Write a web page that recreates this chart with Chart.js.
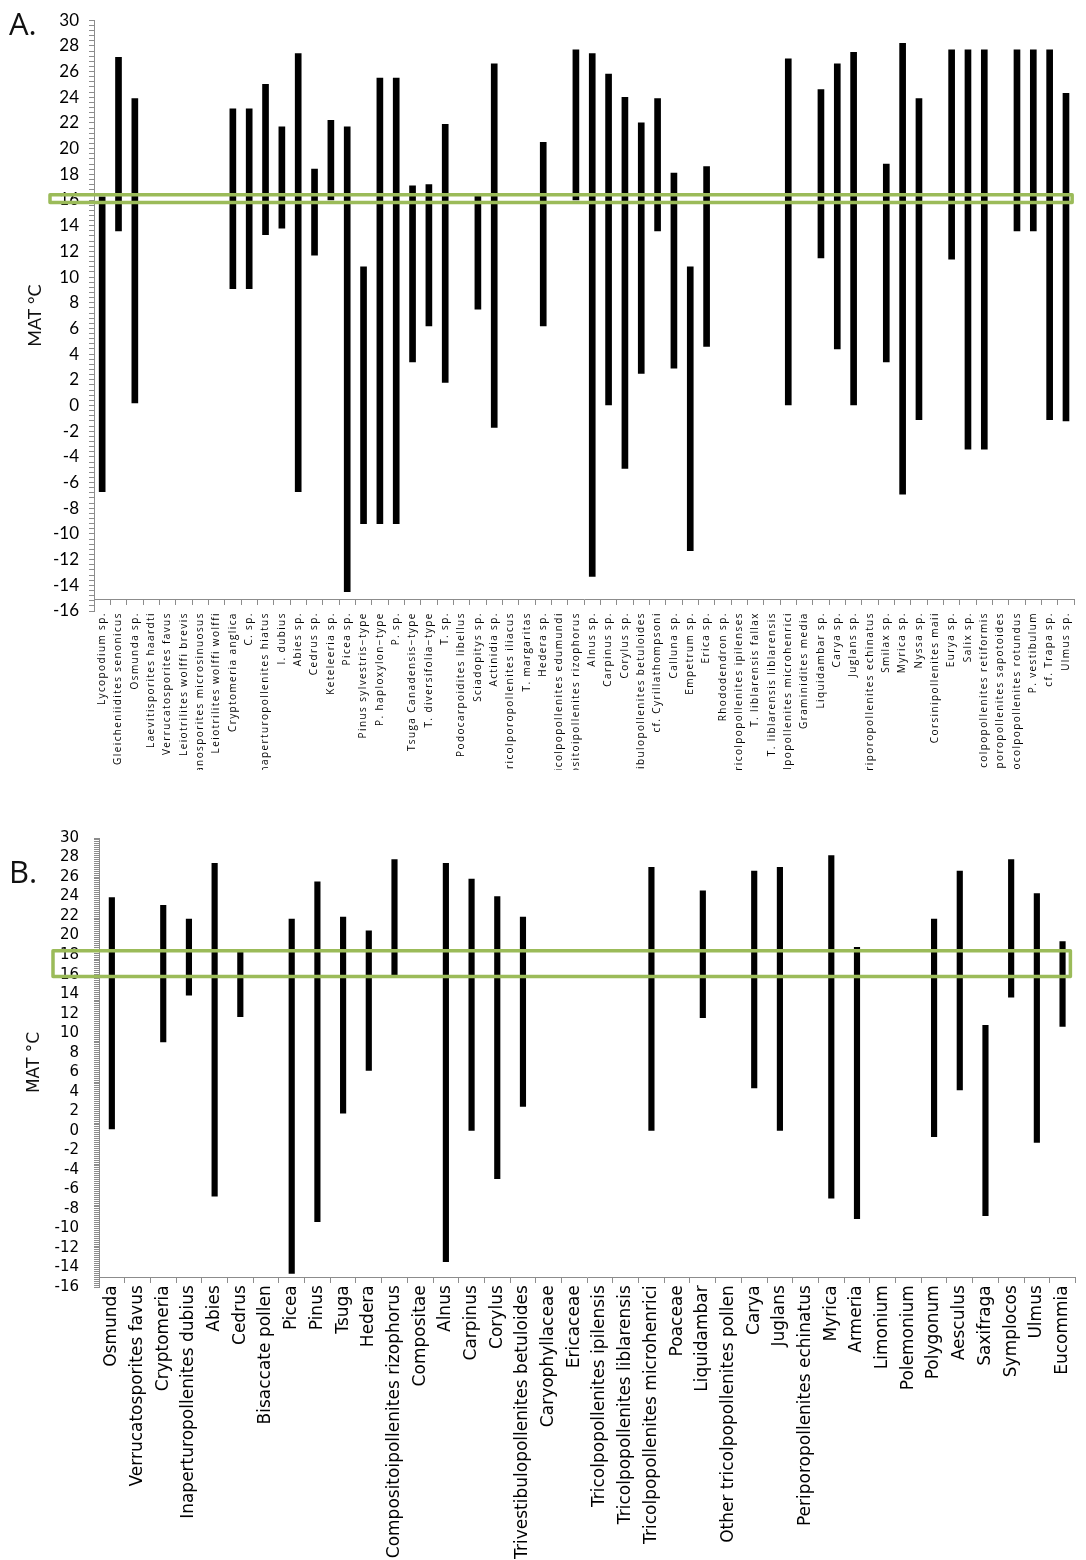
<!DOCTYPE html>
<html>
<head>
<meta charset="utf-8">
<script src="https://cdn.jsdelivr.net/npm/chart.js@4/dist/chart.umd.min.js"></script>
<style>
  html, body { margin: 0; padding: 0; background: #fff; }
  body { width: 1086px; height: 1560px; position: relative; overflow: hidden; }
  .panel { position: absolute; left: 0; width: 1086px; }
  #wrapA { top: 0; height: 770px; }
  #wrapB { top: 810px; height: 750px; }
  .tag { position: absolute; font-family: 'Open Sans', sans-serif; font-size: 31px; color: #111; line-height: 1; }
</style>
</head>
<body>
<div class="panel" id="wrapA"><canvas id="chartA" width="1086" height="770"></canvas></div>
<div class="panel" id="wrapB"><canvas id="chartB" width="1086" height="750"></canvas></div>
<div class="tag" style="left:9px; top:8px;">A.</div>
<div class="tag" style="left:9px; top:856px;">B.</div>

<script>
// ---------- Panel A: MAT ranges per fossil taxon ----------
const taxaA = [
  'Lycopodium sp.', 'Gleicheniidites senonicus', 'Osmunda sp.', 'Laevitisporites haardti',
  'Verrucatosporites favus', 'Leiotrilites wolffi brevis', 'Triplanosporites microsinuosus',
  'Leiotrilites wolffi wolffi', 'Cryptomeria anglica', 'C. sp.', 'Inaperturopollenites hiatus',
  'I. dubius', 'Abies sp.', 'Cedrus sp.', 'Keteleeria sp.', 'Picea sp.',
  'Pinus sylvestris\u2212type', 'P. haploxylon\u2212type', 'P. sp.', 'Tsuga Canadensis\u2212type',
  'T. diversifolia\u2212type', 'T. sp.', 'Podocarpoidites libellus', 'Sciadopitys sp.',
  'Actinidia sp.', 'Tricolporopollenites iliacus', 'T. margaritas', 'Hedera sp.',
  'Tricolpopollenites edumundi', 'Compositoipollenites rizophorus', 'Alnus sp.', 'Carpinus sp.',
  'Corylus sp.', 'Trivestibulopollenites betuloides', 'cf. Cyrillathompsoni', 'Calluna sp.',
  'Empetrum sp.', 'Erica sp.', 'Rhododendron sp.', 'Tricolpopollenites ipilenses',
  'T. liblarensis fallax', 'T. liblarensis liblarensis', 'Tricolpopollenites microhenrici',
  'Graminidites media', 'Liquidambar sp.', 'Carya sp.', 'Juglans sp.',
  'Periporopollenites echinatus', 'Smilax sp.', 'Myrica sp.', 'Nyssa sp.',
  'Corsinipollenites maii', 'Eurya sp.', 'Salix sp.', 'Tricolpopollenites retiformis',
  'Tetracolporopollenites sapotoides', 'Porocolpopollenites rotundus', 'P. vestibulum',
  'cf. Trapa sp.', 'Ulmus sp.'
];
const minA = [
  -6.7, 13.6, 0.2, null, null, null, null, null, 9.1, 9.1, 13.3, 13.8, -6.7, 11.7, 16.0, -14.5,
  -9.2, -9.2, -9.2, 3.4, 6.2, 1.8, null, 7.5, -1.7, null, null, 6.2, null, 16.0, -13.3, 0.0,
  -4.9, 2.5, 13.6, 2.9, -11.3, 4.6, null, null, null, null, 0.0, null, 11.5, 4.4, 0.0,
  null, 3.4, -6.9, -1.1, null, 11.4, -3.4, -3.4, null, 13.6, 13.6, -1.1, -1.2
];
const maxA = [
  16.25, 27.1, 23.9, null, null, null, null, null, 23.1, 23.1, 25.0, 21.7, 27.4, 18.4, 22.2, 21.7,
  10.8, 25.5, 25.5, 17.1, 17.2, 21.9, null, 16.3, 26.6, null, null, 20.5, null, 27.7, 27.4, 25.8,
  24.0, 22.0, 23.9, 18.1, 10.8, 18.6, null, null, null, null, 27.0, null, 24.6, 26.6, 27.5,
  null, 18.8, 28.2, 23.9, null, 27.7, 27.7, 27.7, null, 27.7, 27.7, 27.7, 24.3
];
const yLabelsA = [30, 28, 26, 24, 22, 20, 18, 16, 14, 12, 10, 8, 6, 4, 2, 0, -2, -4, -6, -8, -10, -12, -14, -16];
const minorStepA = 0.4;
const bandA = [15.8, 16.4];   // highlighted MAT band

// ---------- Panel B: MAT ranges per pollen type ----------
const taxaB = [
  'Osmunda', 'Verrucatosporites favus', 'Cryptomeria', 'Inaperturopollenites dubius', 'Abies',
  'Cedrus', 'Bisaccate pollen', 'Picea', 'Pinus', 'Tsuga', 'Hedera',
  'Compositoipollenites rizophorus', 'Compositae', 'Alnus', 'Carpinus', 'Corylus',
  'Trivestibulopollenites betuloides', 'Caryophyllaceae', 'Ericaceae',
  'Tricolpopollenites ipilensis', 'Tricolpopollenites liblarensis',
  'Tricolpopollenites microhenrici', 'Poaceae', 'Liquidambar', 'Other tricolpopollenites pollen',
  'Carya', 'Juglans', 'Periporopollenites echinatus', 'Myrica', 'Armeria', 'Limonium',
  'Polemonium', 'Polygonum', 'Aesculus', 'Saxifraga', 'Symplocos', 'Ulmus', 'Eucommia'
];
const minB = [
  0.2, null, 9.1, 13.9, -6.7, 11.7, null, -14.6, -9.3, 1.8, 6.2, 15.9, null, -13.4, 0.0, -4.9,
  2.5, null, null, null, null, 0.0, null, 11.6, null, 4.4, 0.0, null, -6.9, -9.0, null, null,
  -0.6, 4.2, -8.7, 13.7, -1.2, 10.7
];
const maxB = [
  23.9, null, 23.1, 21.7, 27.4, 18.3, null, 21.7, 25.5, 21.9, 20.5, 27.8, null, 27.4, 25.8, 24.0,
  21.9, null, null, null, null, 27.0, null, 24.6, null, 26.6, 27.0, null, 28.2, 18.8, null, null,
  21.7, 26.6, 10.8, 27.8, 24.3, 19.4
];
const yLabelsB = yLabelsA.slice();
const minorStepB = 0.2;
const bandB = [15.8, 18.45];

// ---------- shared helpers ----------
function ranges(lo, hi) {
  return lo.map((v, i) => (v === null || hi[i] === null) ? null : [v, hi[i]]);
}

function minorTicks(labels, step) {
  const lo = Math.min(...labels), hi = Math.max(...labels);
  const n = Math.round((hi - lo) / step);
  const out = [];
  for (let k = 0; k <= n; k++) out.push({ value: Math.round((lo + k * step) * 100) / 100 });
  return out;
}

// Rectangle outlining a MAT band across the plot
const bandBox = {
  id: 'bandBox',
  afterDraw(chart, args, opts) {
    const y = chart.scales.y;
    const area = chart.chartArea;
    const ctx = chart.ctx;
    const top = y.getPixelForValue(opts.range[1]);
    const bot = y.getPixelForValue(opts.range[0]);
    const left = area.left - opts.outLeft;
    const right = area.right - opts.inRight;
    ctx.save();
    ctx.strokeStyle = opts.color;
    ctx.lineWidth = opts.width;
    ctx.lineJoin = 'round';
    ctx.strokeRect(left, top, right - left, bot - top);
    ctx.restore();
  }
};

// Wider letter spacing for the category labels only
const spacedLabels = {
  id: 'spacedLabels',
  beforeDraw(chart, args, opts) {
    const s = chart.scales.x;
    if (!s || s._spacedWrap) return;
    const orig = s.drawLabels;
    s.drawLabels = function (area) {
      const ctx = this.ctx;
      ctx.save();
      ctx.letterSpacing = opts.spacing + 'px';
      orig.call(this, area);
      ctx.restore();
    };
    s._spacedWrap = true;
  }
};

function makeChart(canvasId, cfg) {
  const axisGrey = '#8c8c8c';
  return new Chart(document.getElementById(canvasId), {
    type: 'bar',
    data: {
      labels: cfg.labels,
      datasets: [{
        data: ranges(cfg.lo, cfg.hi),
        backgroundColor: '#000',
        borderWidth: 0,
        borderSkipped: false,
        barThickness: cfg.barWidth
      }]
    },
    options: {
      responsive: false,
      animation: false,
      events: [],
      // the category axis crosses inside the plot, so its label band is reserved here
      layout: { padding: { top: cfg.padTop, right: cfg.padRight, bottom: cfg.xHeight, left: 0 } },
      plugins: {
        legend: { display: false },
        tooltip: { enabled: false },
        bandBox: { range: cfg.band, color: '#9bbb59', width: 3.5, outLeft: cfg.boxOutLeft, inRight: cfg.boxInRight },
        spacedLabels: { spacing: cfg.xSpacing }
      },
      scales: {
        x: {
          type: 'category',
          position: { y: cfg.axisCross },
          offset: true,
          grid: { offset: true, drawOnChartArea: false, drawTicks: true, tickLength: 5, color: axisGrey },
          border: { display: true, color: axisGrey, width: 1 },
          ticks: {
            autoSkip: false, minRotation: 90, maxRotation: 90,
            padding: cfg.xPad,
            color: '#000',
            font: { family: cfg.xFont, size: cfg.xSize }
          }
        },
        y: {
          min: Math.min(...cfg.yLabels),
          max: Math.max(...cfg.yLabels),
          afterBuildTicks: (s) => { s.ticks = minorTicks(cfg.yLabels, cfg.minorStep); },
          grid: { drawOnChartArea: false, drawTicks: true, tickLength: 5, color: axisGrey },
          border: { display: true, color: axisGrey, width: 1 },
          ticks: {
            autoSkip: false,
            padding: cfg.yPad,
            color: '#000',
            font: { family: cfg.yFont, size: cfg.ySize },
            callback: (v) => (cfg.yLabels.includes(Math.round(v * 100) / 100) ? String(Math.round(v)) : '')
          },
          title: {
            display: true,
            text: 'MAT \u00B0C',
            color: '#111',
            font: { family: cfg.titleFont, size: cfg.titleSize },
            padding: { top: cfg.titlePad, bottom: 0 }
          },
          afterFit: (s) => { s.width = cfg.yWidth; }
        }
      }
    },
    plugins: [bandBox, spacedLabels]
  });
}

makeChart('chartA', {
  labels: taxaA, lo: minA, hi: maxA, yLabels: yLabelsA, minorStep: minorStepA, band: bandA,
  barWidth: 6, padTop: 15, padRight: 2, axisCross: -15.08,
  xPad: 8, xFont: "'Open Sans'", xSize: 10, xSpacing: 1.4, xHeight: 159,
  yPad: 10, yFont: 'Lato', ySize: 17, yWidth: 94,
  titleFont: 'Lato', titleSize: 18, titlePad: 24,
  boxOutLeft: 44, boxInRight: 2
});

makeChart('chartB', {
  labels: taxaB, lo: minB, hi: maxB, yLabels: yLabelsB, minorStep: minorStepB, band: bandB,
  barWidth: 5.5, padTop: 28, padRight: 4, axisCross: -15.0,
  xPad: 3, xFont: "'DejaVu Sans'", xSize: 17, xSpacing: 0, xHeight: 273,
  yPad: 15, yFont: "'DejaVu Sans'", ySize: 15, yWidth: 99,
  titleFont: "'DejaVu Sans'", titleSize: 17, titlePad: 24,
  boxOutLeft: 46, boxInRight: 5
});
</script>
</body>
</html>
